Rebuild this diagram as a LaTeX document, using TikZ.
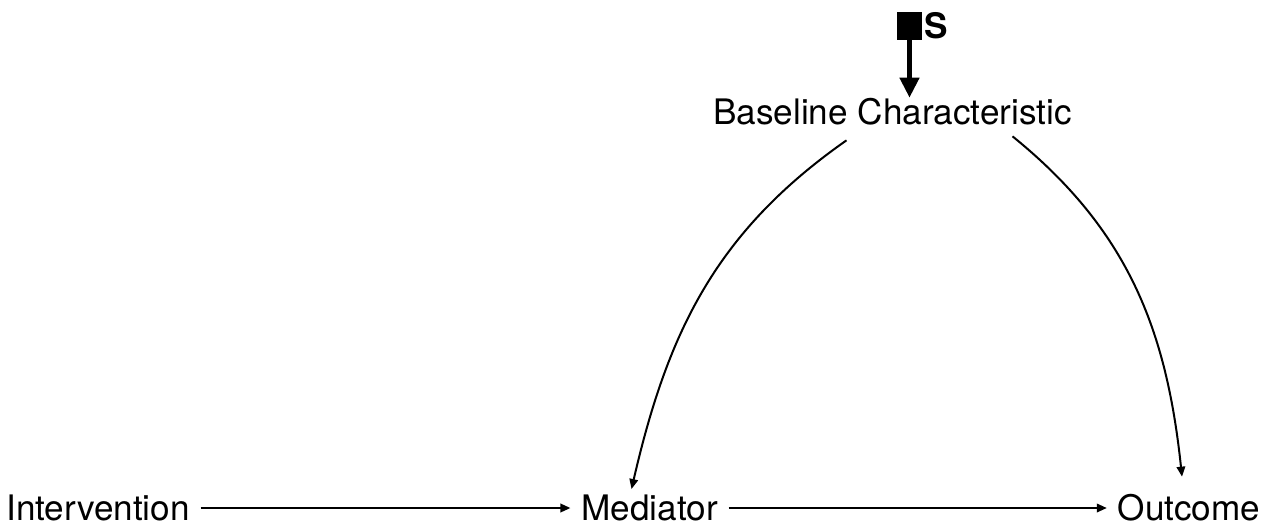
\documentclass[tikz,border=0pt]{standalone}
\usepackage{fontspec}
\setmainfont{TeX Gyre Heros}
\usetikzlibrary{arrows.meta,calc}

\begin{document}
\begin{tikzpicture}[
    x=0.02cm, y=-0.02cm,
    var/.style={inner sep=6pt, font=\fontsize{20}{24}\selectfont},
    edge/.style={-{Triangle[length=0.2cm,width=0.17cm]}, line width=0.04cm},
    selnode/.style={fill=black, inner sep=0pt, minimum width=0.5cm, minimum height=0.55cm},
    slabel/.style={font=\fontsize{20}{24}\selectfont\bfseries, inner sep=1pt},
    sarrow/.style={-{Triangle[length=0.4cm,width=0.38cm]}, line width=0.09cm},
  ]
  \useasboundingbox (0,0) rectangle (1275,531);

  % ---------------------------------------------------------------- variables
  \node[var] (int)  at (98,508)    {Intervention};
  \node[var] (med)  at (649.5,508) {Mediator};
  \node[var] (out)  at (1189,508)  {Outcome};
  \node[var] (base) at (892.5,112) {Baseline Characteristic};

  % selection node
  \node[selnode, label={[slabel]east:S}] (sel) at (909.5,26) {};

  % ---------------------------------------------------------------- arrows
  \draw[edge] (int) -- (med);
  \draw[edge] (med) -- (out);
  \draw[edge] ($(base.south)+(-46,4)$) to[out=215,in=77]  ($(med.north)+(-18,5)$);
  \draw[edge] ($(base.south)+(120,0)$) to[out=321,in=96] ($(out.north)+(-7,-7)$);
  \draw[sarrow] (sel.south) -- ($(sel.south |- base.north)+(0,10)$);
\end{tikzpicture}
\end{document}
